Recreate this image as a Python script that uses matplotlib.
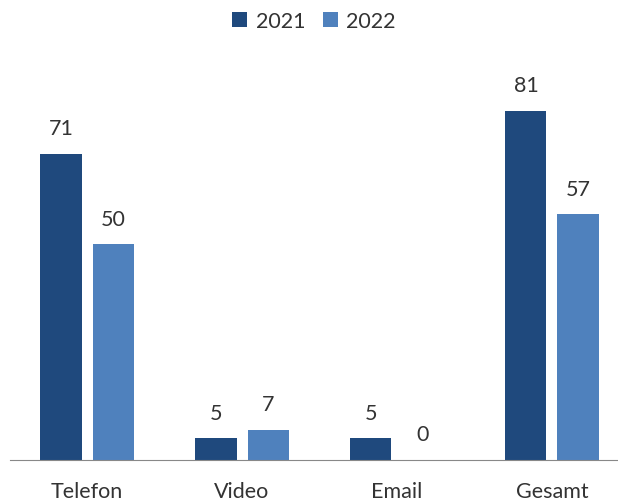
import matplotlib
matplotlib.use("Agg")
import matplotlib.pyplot as plt
import numpy as np

categories = ["Telefon", "Video", "Email", "Gesamt"]
series_names = ["2021", "2022"]
values_2021 = [71, 5, 5, 81]
values_2022 = [50, 7, 0, 57]

colors = ["#1F497D", "#4F81BD"]
plt.rcParams['font.family'] = ['Lato', 'DejaVu Sans']
FS = 15.5
TC = '#333333'

fig = plt.figure(figsize=6.18 * np.array([1, 504/618]), dpi=100)
ax = fig.add_axes([10/618, 43/504, 608/618, 388/504])

x = np.arange(len(categories))
w = 0.265
off = 0.168
for vals, name, c, o in [(values_2021, series_names[0], colors[0], -off),
                         (values_2022, series_names[1], colors[1], off)]:
    bars = ax.bar(x + o, vals, width=w, color=c, label=name)
    for b, v in zip(bars, vals):
        ax.text(b.get_x() + b.get_width()/2, v + 3.6, str(v), ha='center', va='bottom',
                fontsize=FS, color=TC)

ax.set_xlim(-0.497, 3.426)
ax.set_ylim(0, 90)
ax.set_yticks([])
ax.set_xticks(x)
ax.set_xticklabels(categories, fontsize=FS, color=TC)
ax.tick_params(axis='x', length=0, pad=15)
for s in ['top', 'right', 'left']:
    ax.spines[s].set_visible(False)
ax.spines['bottom'].set_color('#888888')

ax.legend(loc='upper center', bbox_to_anchor=(0.5, 1 + 80/388), ncol=2, frameon=False,
          fontsize=FS, handlelength=0.7, handleheight=0.7, columnspacing=0.8, handletextpad=0.4,
          labelcolor=TC)

fig.savefig("out.png", dpi=100)
